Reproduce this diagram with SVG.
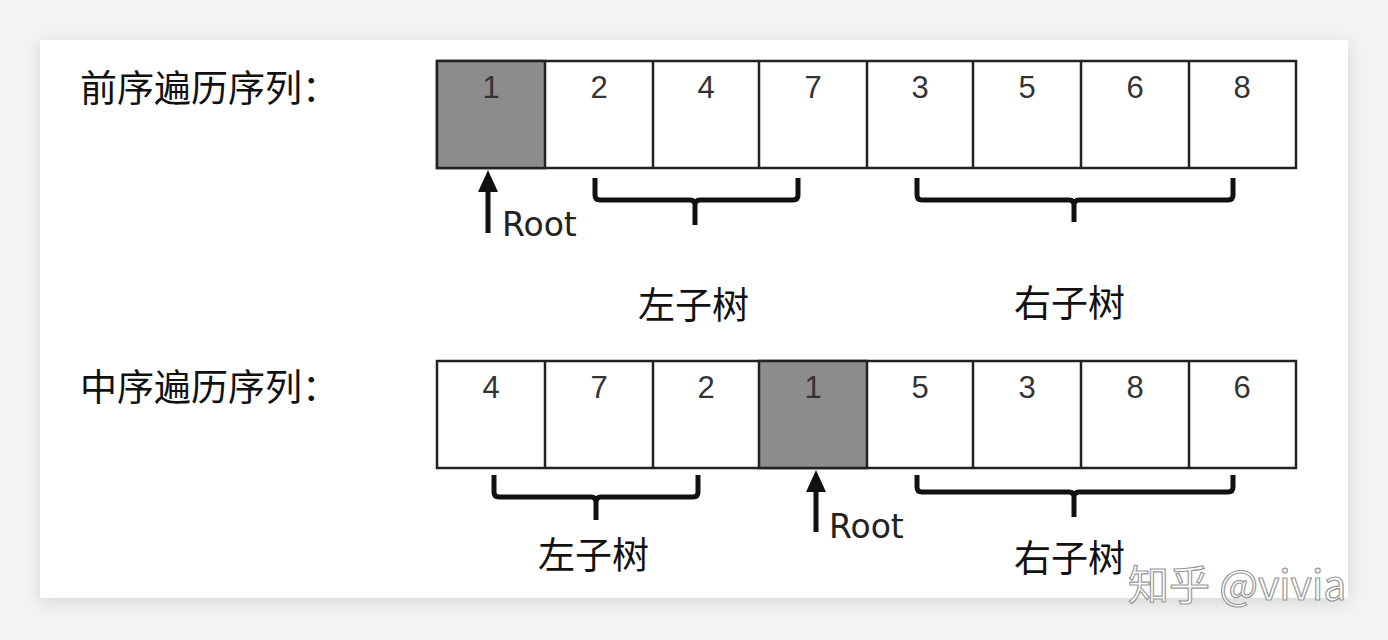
<svg xmlns="http://www.w3.org/2000/svg" width="1388" height="640" viewBox="0 0 1388 640">
<style>
.c{fill:#fff;stroke:#222;stroke-width:2.5}
.g{fill:#8c8c8c}
.n{font-family:"Liberation Sans",Calibri,sans-serif;font-size:31px;fill:#333;text-anchor:middle}
.z{font-family:"Noto Sans CJK SC",sans-serif;font-size:37px;fill:#111}
.b{fill:none;stroke:#111;stroke-width:5;stroke-linejoin:round}
.r{font-family:"DejaVu Sans",sans-serif;font-size:33px;fill:#222}
</style>
<defs><filter id="sh" x="-5%" y="-5%" width="110%" height="115%"><feDropShadow dx="0" dy="4" stdDeviation="8" flood-color="#000" flood-opacity="0.12"/></filter></defs>
<rect width="1388" height="640" fill="#f3f3f3"/>
<rect x="40" y="40" width="1308" height="558" fill="#fff" filter="url(#sh)"/>
<text class="z" x="80" y="102">前序遍历序列：</text>
<text class="z" x="80" y="401">中序遍历序列：</text>
<g id="row1">
<rect class="c" x="437" y="61" width="859" height="107"/>
<rect class="c g" x="437" y="61" width="108" height="107"/>
<path stroke="#222" stroke-width="2.5" d="M653 61V168M759 61V168M867 61V168M973 61V168M1081 61V168M1189 61V168"/>
<text class="n" x="491" y="98">1</text><text class="n" x="599" y="98">2</text><text class="n" x="706" y="98">4</text><text class="n" x="813" y="98">7</text><text class="n" x="920" y="98">3</text><text class="n" x="1027" y="98">5</text><text class="n" x="1135" y="98">6</text><text class="n" x="1242" y="98">8</text>
</g>
<g id="row2">
<rect class="c" x="437" y="361" width="859" height="107"/>
<rect class="c g" x="759" y="361" width="108" height="107"/>
<path stroke="#222" stroke-width="2.5" d="M545 361V468M653 361V468M973 361V468M1081 361V468M1189 361V468"/>
<text class="n" x="491" y="398">4</text><text class="n" x="599" y="398">7</text><text class="n" x="706" y="398">2</text><text class="n" x="813" y="398">1</text><text class="n" x="920" y="398">5</text><text class="n" x="1027" y="398">3</text><text class="n" x="1135" y="398">8</text><text class="n" x="1242" y="398">6</text>
</g>
<g id="connectors">
<path class="b" d="M595 178V195Q595 200 600 200H690Q695 200 695 205V225M695 205Q695 200 700 200H793Q798 200 798 195V178"/>
<path class="b" d="M917 178V195Q917 200 922 200H1069Q1074 200 1074 205V222M1074 205Q1074 200 1079 200H1228Q1233 200 1233 195V178"/>
<path class="b" d="M494 475V492Q494 497 499 497H591Q596 497 596 502V520M596 502Q596 497 601 497H693Q698 497 698 492V475"/>
<path class="b" d="M917 475V487Q917 492 922 492H1069Q1074 492 1074 497V517M1074 497Q1074 492 1079 492H1228Q1233 492 1233 487V475"/>
<path stroke="#111" stroke-width="5" d="M488 233V190M816 532V490"/>
<path fill="#111" d="M478 192L488 170L498 192ZM806 492L816 470L826 492Z"/>
</g>
<text class="r" x="502" y="236">Root</text>
<text class="r" x="829" y="538">Root</text>
<text class="z" x="638" y="319">左子树</text>
<text class="z" x="1014" y="317">右子树</text>
<text class="z" x="538" y="569">左子树</text>
<text class="z" x="1014" y="572">右子树</text>
<text x="1128" y="600" font-family="Noto Sans CJK SC,sans-serif" font-size="41" fill="#fff" stroke="#999" stroke-width="1.2">知乎 @vivia</text>
</svg>
